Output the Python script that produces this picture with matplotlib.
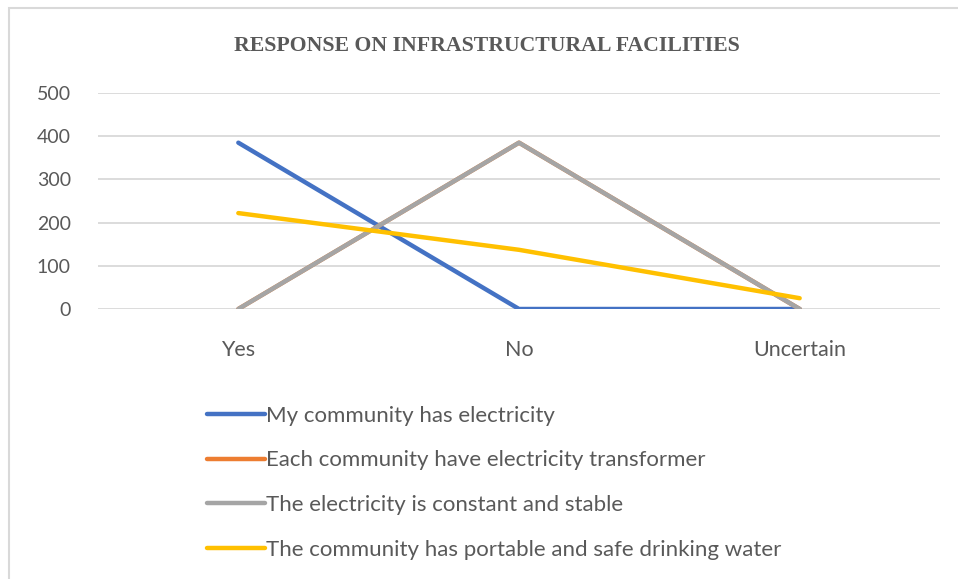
import matplotlib.pyplot as plt
from matplotlib.patches import Rectangle

categories = ['Yes', 'No', 'Uncertain']
electricity = [385, 0, 0]
transformer = [0, 385, 0]
constant_stable = [0, 385, 0]
drinking_water = [222, 137, 25]

series_names = ['My community has electricity',
                'Each community have electricity transformer',
                'The electricity is constant and stable',
                'The community has portable and safe drinking water']
series_values = [electricity, transformer, constant_stable, drinking_water]
colors = ['#4472C4', '#ED7D31', '#A5A5A5', '#FFC000']

W, H = 958, 579
plt.rcParams['font.family'] = ['Lato', 'DejaVu Sans']
fig = plt.figure(figsize=(W / 100, H / 100), dpi=100)

# chart frame (only left/top edges visible in the reference)
fig.patches.append(Rectangle((9 / W, -0.1), 1.2, 1 - 8 / H + 0.1, transform=fig.transFigure,
                             fill=False, edgecolor='#d9d9d9', linewidth=1.5))

ax = fig.add_axes([98 / W, (H - 309) / H, (940 - 98) / W, (309 - 93) / H])
x = range(len(categories))
for name, vals, c in zip(series_names, series_values, colors):
    ax.plot(x, vals, color=c, linewidth=3.2, label=name, solid_capstyle='round', zorder=3)

ax.set_xlim(-0.5, len(categories) - 0.5)
ax.set_ylim(0, 500)
ax.set_yticks(range(0, 501, 100))
ax.set_xticks(list(x))
ax.set_xticklabels(categories)
ax.yaxis.grid(True, color='#d9d9d9', linewidth=1.3)
ax.set_axisbelow(True)
for s in ax.spines.values():
    s.set_visible(False)
ax.tick_params(axis='both', length=0, labelcolor='#595959')
ax.tick_params(axis='y', pad=19.5, labelsize=14)
ax.tick_params(axis='x', pad=22.5, labelsize=15.5)

fig.text(487 / W, 1 - 46 / H, 'RESPONSE ON INFRASTRUCTURAL FACILITIES', ha='center', va='center',
         fontsize=15.7, color='#595959', family='Liberation Serif', weight='bold')

fig.legend(loc='upper left', bbox_to_anchor=(207 / W, 1 - 405.5 / H), frameon=False,
           borderpad=0, borderaxespad=0, handlelength=2.6, handletextpad=0.05,
           labelspacing=1.12, fontsize=16, labelcolor='#595959')

fig.savefig('out.png', dpi=100)
